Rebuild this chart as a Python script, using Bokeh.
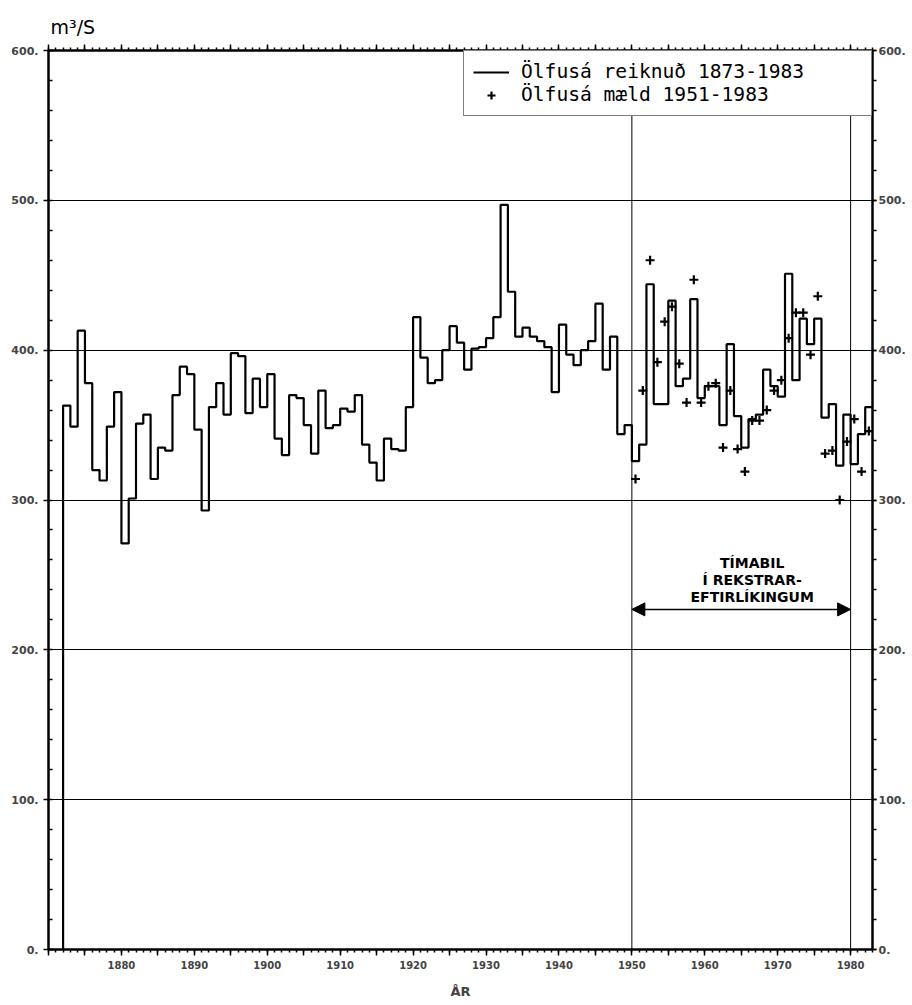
from bokeh.plotting import figure
from bokeh.models import (LinearAxis, SingleIntervalTicker, FixedTicker, Span, Arrow,
                          NormalHead, Label, CustomJSTickFormatter, PrintfTickFormatter)
from bokeh.embed import file_html
from bokeh.resources import INLINE

# ---------------- data ----------------
years = list(range(1873, 1984))
computed = [
    363, 349, 413, 378, 320, 313, 349,                      # 1873-1879
    372, 271, 301, 351, 357, 314, 335, 333, 370, 389,       # 1880-1889
    384, 347, 293, 362, 378, 357, 398, 396, 358, 381,       # 1890-1899
    362, 384, 341, 330, 370, 368, 350, 331, 373, 348,       # 1900-1909
    350, 361, 359, 370, 337, 325, 313, 341, 334, 333,       # 1910-1919
    362, 422, 395, 378, 380, 400, 416, 405, 387, 401,       # 1920-1929
    402, 408, 422, 497, 439, 409, 415, 409, 406, 402,       # 1930-1939
    372, 417, 397, 390, 400, 406, 431, 387, 409, 344,       # 1940-1949
    350, 326, 337, 444, 364, 364, 433, 376, 381, 434,       # 1950-1959
    368, 376, 376, 350, 404, 356, 335, 354, 357, 387,       # 1960-1969
    376, 369, 451, 380, 421, 404, 421, 355, 364, 323,       # 1970-1979
    357, 324, 344, 362,                                     # 1980-1983
]
measured_years = list(range(1951, 1984))
measured = [
    314, 373, 460, 392, 419, 429, 391, 365, 447,            # 1951-1959
    365, 376, 378, 335, 373, 334, 319, 353, 353, 360,       # 1960-1969
    373, 380, 408, 425, 425, 397, 436, 331, 333, 300,       # 1970-1979
    339, 354, 319, 346,                                     # 1980-1983
]
x_label_years = [1880, 1890, 1900, 1910, 1920, 1930, 1940, 1950, 1960, 1970, 1980]
period = [1950, 1980]
period_text = ["TÍMABIL", "Í REKSTRAR-", "EFTIRLÍKINGUM"]
legend_labels = ["Ölfusá reiknuð 1873-1983", "Ölfusá mæld 1951-1983"]
y_unit = "m³/S"
x_title = "ÅR"

X0, X1 = 1870, 1983
Y0, Y1 = 0, 600

# ---------------- figure ----------------
p = figure(width=908, height=1003, x_range=(X0, X1), y_range=(Y0, Y1),
           output_backend="svg", toolbar_location=None,
           min_border_left=48, min_border_right=32, min_border_top=50, min_border_bottom=54,
           title=y_unit)
p.outline_line_color = "black"
p.outline_line_width = 2
p.background_fill_color = "white"
p.border_fill_color = "white"

p.title.align = "left"
p.title.offset = 2
p.title.standoff = 13
p.title.text_font = "DejaVu Sans"
p.title.text_font_style = "normal"
p.title.text_font_size = "19px"
p.title.text_color = "black"

xticker = FixedTicker(ticks=list(range(X0, X1 + 1, 5)), minor_ticks=list(range(X0, X1 + 1)))
yticker = SingleIntervalTicker(interval=100, num_minor_ticks=5)

lab_font = "DejaVu Sans"
x_fmt = CustomJSTickFormatter(args=dict(labs=x_label_years),
                              code="return labs.includes(Math.round(tick)) ? String(Math.round(tick)) : '';")

# bottom axis
xb = p.xaxis[0]
xb.ticker = xticker
xb.formatter = x_fmt
xb.major_tick_in = 0
xb.major_tick_out = 6
xb.minor_tick_in = 0
xb.minor_tick_out = 3
xb.major_label_standoff = 5
xb.major_label_text_font = lab_font
xb.major_label_text_font_style = "bold"
xb.major_label_text_font_size = "10px"
xb.axis_label = x_title
xb.axis_label_text_font = lab_font
xb.axis_label_text_font_style = "bold"
xb.axis_label_text_font_size = "13px"
xb.axis_label_standoff = 12

# top axis (ticks only)
xt = LinearAxis(ticker=xticker, formatter=CustomJSTickFormatter(code="return '';"))
xt.major_tick_in = 0
xt.major_tick_out = 6
xt.minor_tick_in = 0
xt.minor_tick_out = 3
xt.major_label_text_font_size = "0px"
xt.major_label_standoff = 0
p.add_layout(xt, "above")

# left axis
yl = p.yaxis[0]
yl.ticker = yticker
yl.formatter = PrintfTickFormatter(format="%d.")
yl.major_tick_in = 0
yl.major_tick_out = 5
yl.minor_tick_in = 4
yl.minor_tick_out = 0
yl.major_label_standoff = 5
yl.major_label_text_font = lab_font
yl.major_label_text_font_style = "bold"
yl.major_label_text_font_size = "11px"

# right axis
yr = LinearAxis(ticker=yticker, formatter=PrintfTickFormatter(format="%d."))
yr.major_tick_in = 0
yr.major_tick_out = 4
yr.minor_tick_in = 0
yr.minor_tick_out = 4
yr.major_label_standoff = 2
yr.major_label_text_font = lab_font
yr.major_label_text_font_style = "bold"
yr.major_label_text_font_size = "11px"
p.add_layout(yr, "right")

for ax in (xb, xt, yl, yr):
    ax.axis_line_color = "black"
    ax.axis_line_width = 2
    ax.major_tick_line_color = "black"
    ax.major_tick_line_width = 1.5
    ax.minor_tick_line_color = "black"
    ax.minor_tick_line_width = 1.5

p.xgrid.visible = False
p.ygrid.ticker = yticker
p.ygrid.grid_line_color = "black"
p.ygrid.grid_line_width = 1
p.ygrid.minor_grid_line_color = None

# period lines
for yr_ in period:
    p.add_layout(Span(location=yr_, dimension="height", line_color="black",
                      line_width=1, level="underlay"))

# ---------------- data marks ----------------
xs = [years[0] - 1]
ys = [0]
for yv, v in zip(years, computed):
    xs += [yv - 1, yv]
    ys += [v, v]
p.line(xs, ys, line_color="black", line_width=2.2, legend_label=legend_labels[0])

mx = [yv - 0.5 for yv in measured_years]
p.scatter(mx, measured, marker="cross", size=9, line_color="black", line_width=2.2,
          legend_label=legend_labels[1])

# ---------------- legend ----------------
lg = p.legend[0]
lg.location = "top_right"
lg.margin = 0
lg.padding = 9
lg.spacing = 0
lg.border_line_color = "black"
lg.border_line_width = 1.5
lg.background_fill_color = "white"
lg.background_fill_alpha = 1
lg.label_text_font = "DejaVu Sans Mono"
lg.label_text_font_size = "19.6px"
lg.label_text_color = "black"
lg.glyph_width = 36
lg.glyph_height = 20
lg.label_height = 20
lg.label_width = 341
lg.label_standoff = 12

# ---------------- annotations ----------------
txt_x = 1966.5
for t, yy in zip(period_text, [258, 246.5, 235]):
    p.add_layout(Label(x=txt_x, y=yy, text=t, text_align="center", text_baseline="middle",
                       text_font=lab_font, text_font_style="bold", text_font_size="14px",
                       text_color="black"))

p.add_layout(Arrow(x_start=period[0], y_start=227, x_end=period[1], y_end=227,
                   line_color="black", line_width=1.5,
                   start=NormalHead(size=13, fill_color="black", line_color="black"),
                   end=NormalHead(size=13, fill_color="black", line_color="black")))

open("out.html", "w").write(file_html(p, INLINE))
